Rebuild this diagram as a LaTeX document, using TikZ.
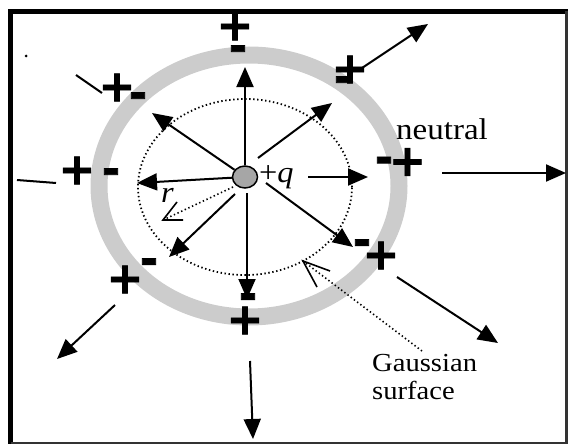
\documentclass[tikz,border=0pt]{standalone}
\usepackage{fontspec}
\setmainfont{Liberation Serif}
\newfontfamily\signfont[FakeBold=1.5]{DejaVu Sans Bold}
\usetikzlibrary{arrows.meta,shapes.geometric}
\definecolor{ringgray}{HTML}{CCCCCC}
\definecolor{chargegray}{HTML}{A6A6A6}
\begin{document}
\begin{tikzpicture}[x=1pt,y=-1pt,
  fld/.style={line width=2pt,-{Triangle[length=20pt,width=17pt]}},
  bare/.style={line width=2pt},
  dots/.style={line width=1.8pt,dash pattern=on 1.4pt off 2.6pt},
  wing/.style={line width=1.6pt},
  sgn/.style={font=\signfont\fontsize{44}{44}\selectfont,inner sep=0pt,anchor=mid},
  lbl/.style={inner sep=0pt,anchor=base west}]
\useasboundingbox (0,0) rectangle (570,444);
% frame
\draw[line width=5pt] (10.5,444) -- (10.5,11.5) -- (568,11.5);
\draw[line width=3pt,black!80] (566.5,11.5) -- (566.5,443) -- (10.5,443);
% conductor shell and Gaussian surface
\draw[ringgray,line width=17pt] (249,186) ellipse [x radius=150pt,y radius=131pt];
\draw[dots] (245,187) ellipse [x radius=107pt,y radius=88pt];
% charge
\node[ellipse,draw,line width=1.5pt,fill=chargegray,minimum width=25pt,minimum height=22pt,inner sep=0pt] (q) at (245,177) {};
\node[lbl,xscale=1.08,font=\fontsize{30}{30}\selectfont] (ql) at (259,182) {+\textit{q}};
% inner field arrows
\coordinate (tU) at (245,67);
\coordinate (tUL) at (152,113);
\coordinate (tL) at (137,183);
\coordinate (sUR) at (258,158);
\coordinate (tUR) at (332,103);
\coordinate (sR) at (308,177);
\coordinate (tR) at (368,177);
\coordinate (sDR) at (266,183);
\coordinate (tDR) at (353,247);
\coordinate (sD) at (247,193);
\coordinate (tD) at (247,299);
\coordinate (sDL) at (235,194);
\coordinate (tDL) at (169,257);
\draw[fld] (q) -- (tU);
\draw[fld] (q) -- (tUL);
\draw[fld] (q) -- (tL);
\draw[fld] (sUR) -- (tUR);
\draw[fld] (sR) -- (tR);
\draw[fld] (sDR) -- (tDR);
\draw[fld] (sD) -- (tD);
\draw[fld] (sDL) -- (tDL);
% radius marker
\coordinate (rs) at (233,187);
\coordinate (rt) at (163,220);
\draw[dots,line width=1.6pt] (rs) -- (rt);
\draw[wing] (177,202) -- (rt) -- (183,220);
\node[lbl,xscale=1.08,font=\itshape\fontsize{30}{30}\selectfont] (rl) at (161,202) {r};
% induced charges
\node[sgn] (pT) at (235,38) {+};
\node[sgn] (mT) at (238,59) {-};
\node[sgn] (pUL) at (117,99) {+};
\node[sgn] (mUL) at (138,106) {-};
\node[sgn] (pL) at (77,182) {+};
\node[sgn] (mL) at (111,182) {-};
\node[sgn] (pUR) at (350,81) {+};
\node[sgn] (mUR) at (343,90) {-};
\node[sgn] (mR) at (384,170.5) {-};
\node[sgn] (pR) at (407.5,173.5) {+};
\node[sgn] (mLR) at (362,253) {-};
\node[sgn] (pLR) at (381,267) {+};
\node[sgn] (mB) at (248,307) {-};
\node[sgn] (pB) at (245,332) {+};
\node[sgn] (mLL) at (149,272) {-};
\node[sgn] (pLL) at (125,291) {+};
% outer field lines
\coordinate (oT1) at (237,13);
\coordinate (oT2) at (237,27);
\draw[bare] (oT1) -- (oT2);
\coordinate (oUL1) at (76,75);
\coordinate (oUL2) at (102,93);
\draw[bare] (oUL1) -- (oUL2);
\fill (26,56) circle (1.5pt);
\coordinate (oL1) at (17,180);
\coordinate (oL2) at (56,183);
\draw[bare] (oL1) -- (oL2);
\coordinate (oUR1) at (362,68);
\coordinate (oUR2) at (428,24);
\draw[fld] (oUR1) -- (oUR2);
\coordinate (oR1) at (442,173);
\coordinate (oR2) at (566,173);
\draw[fld] (oR1) -- (oR2);
\coordinate (oLR1) at (397,277);
\coordinate (oLR2) at (498,343);
\draw[fld] (oLR1) -- (oLR2);
\coordinate (oB1) at (250,361);
\coordinate (oB2) at (253,439);
\draw[fld] (oB1) -- (oB2);
\coordinate (oLL1) at (115,305);
\coordinate (oLL2) at (57,359);
\draw[fld] (oLL1) -- (oLL2);
% labels
\node[lbl,xscale=1.1,font=\fontsize{30}{30}\selectfont] (neu) at (396,139) {neutral};
\node[lbl,xscale=1.1,font=\fontsize{26}{28}\selectfont] (gl1) at (372,371) {Gaussian};
\node[lbl,xscale=1.1,font=\fontsize{26}{28}\selectfont] (gl2) at (372,399) {surface};
\coordinate (gt) at (303,261);
\coordinate (gs) at (422,351);
\draw[dots,line width=1.6pt] (gs) -- (gt);
\draw[wing] (317,287) -- (gt) -- (330,271);
\end{tikzpicture}
\end{document}
